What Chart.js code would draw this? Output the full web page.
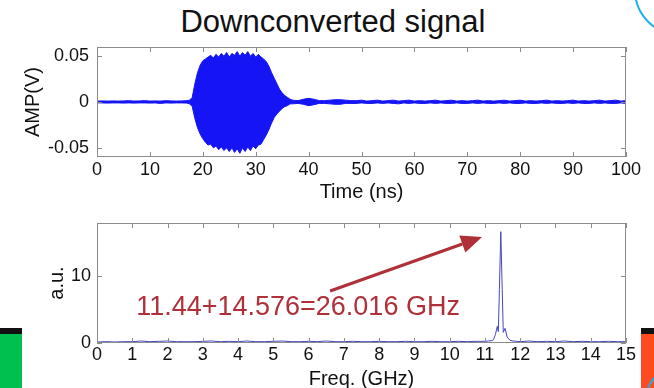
<!DOCTYPE html>
<html>
<head>
<meta charset="utf-8">
<script src="https://cdn.jsdelivr.net/npm/chart.js@4"></script>
<style>
  body { margin: 0; width: 654px; height: 388px; overflow: hidden; background: #fff; position: relative;
         font-family: "Liberation Sans", Arial, sans-serif; }
  canvas { position: absolute; left: 0; }
  #c1 { top: 0; }
  #c2 { top: 200px; }
  #title { position: absolute; left: 0; width: 666px; top: 5px; line-height: 34px; text-align: center;
           font-size: 31px; color: #111; }
  .blk { position: absolute; top: 328px; height: 54px; border-top: 6px solid #111; }
  #green { left: 0; width: 22px; background: #00c050; }
  #orange { left: 641px; width: 13px; background: #ff4b1f; overflow: hidden; }
  #arc { position: absolute; left: 634px; top: -56px; width: 92px; height: 92px; border-radius: 50%;
         border: 2px solid #1ab0ee; box-sizing: border-box; }
  #arc2 { position: absolute; left: 4px; top: 31px; width: 70px; height: 70px; border-radius: 50%;
          border: 2px solid #1ab0ee; box-sizing: border-box; }
</style>
</head>
<body>
<div id="title">Downconverted signal</div>
<div id="arc"></div>
<div id="green" class="blk"></div>
<div id="orange" class="blk"><div id="arc2"></div></div>
<canvas id="c1" width="654" height="210"></canvas>
<canvas id="c2" width="654" height="200"></canvas>
<script>
// time domain (ns) -> envelope of the downconverted signal (V)
const timeNs = [0,1,2,3,4,5,6,7,8,9,10,11,12,13,14,15,16,17,
  17.5,18,18.5,19,19.5,20,20.5,21,21.5,22,22.5,23,23.5,24,24.5,25,25.5,26,26.5,27,27.5,28,28.5,29,29.5,30,30.5,31,31.5,32,32.5,33,33.5,34,34.5,35,35.5,36,36.5,
  37,38,39,40,41,42,43,44,45,46,47,48,49,50,51,52,53,54,55,56,57,58,59,60,61,62,63,64,65,66,67,68,
  69,70,71,72,73,74,75,76,77,78,79,80,81,82,83,84,85,86,87,88,89,90,91,92,93,94,95,96,97,98,99,100];
const ampHigh = [0.001,0.0012,0.001,0.0012,0.001,0.0012,0.0015,0.001,0.0012,0.0015,0.001,0.0012,0.001,0.0015,0.0012,0.001,0.0012,0.0015,
  0.002,0.005,0.020,0.032,0.040,0.045,0.047,0.049,0.051,0.048,0.052,0.049,0.053,0.050,0.054,0.049,0.053,0.051,0.055,0.050,0.054,0.051,0.055,0.050,0.053,0.049,0.052,0.049,0.047,0.044,0.039,0.032,0.026,0.020,0.014,0.010,0.007,0.005,0.003,
  0.002,0.0015,0.003,0.004,0.003,0.0015,0.0015,0.002,0.0025,0.0025,0.002,0.0015,0.0015,0.002,0.001,0.0015,0.002,0.001,0.0015,0.002,0.001,0.0015,0.002,0.001,0.0015,0.001,0.0015,0.002,0.001,0.0015,0.002,0.001,
  0.0015,0.001,0.0015,0.002,0.001,0.0015,0.001,0.0015,0.002,0.001,0.0015,0.002,0.001,0.0015,0.001,0.0015,0.002,0.001,0.0015,0.001,0.0015,0.002,0.001,0.0015,0.001,0.0015,0.002,0.001,0.0015,0.002,0.001,0.0015];
const ampLow = [-0.001,-0.001,-0.0012,-0.001,-0.001,-0.0012,-0.001,-0.0012,-0.001,-0.001,-0.0012,-0.001,-0.0015,-0.001,-0.0012,-0.001,-0.001,-0.0012,
  -0.002,-0.005,-0.018,-0.028,-0.035,-0.040,-0.044,-0.047,-0.046,-0.050,-0.048,-0.052,-0.049,-0.053,-0.050,-0.054,-0.050,-0.055,-0.051,-0.056,-0.050,-0.054,-0.049,-0.053,-0.048,-0.051,-0.047,-0.046,-0.041,-0.036,-0.030,-0.023,-0.017,-0.013,-0.010,-0.007,-0.005,-0.004,-0.002,
  -0.002,-0.0015,-0.0025,-0.004,-0.003,-0.0015,-0.0015,-0.002,-0.0025,-0.0025,-0.0015,-0.0015,-0.0015,-0.001,-0.0015,-0.0015,-0.001,-0.0015,-0.001,-0.0015,-0.002,-0.001,-0.0015,-0.001,-0.0015,-0.0015,-0.001,-0.0015,-0.001,-0.0015,-0.0015,-0.001,
  -0.0015,-0.0015,-0.001,-0.0015,-0.001,-0.0015,-0.0015,-0.001,-0.0015,-0.001,-0.0015,-0.0015,-0.001,-0.0015,-0.0015,-0.001,-0.0015,-0.001,-0.0015,-0.0015,-0.001,-0.0015,-0.001,-0.0015,-0.0015,-0.001,-0.0015,-0.001,-0.0015,-0.0015,-0.001,-0.0015];
const timeTicks = [0,10,20,30,40,50,60,70,80,90,100];
const ampTicks = [-0.05, 0, 0.05];

// spectrum (GHz) -> a.u.
const freqGHz = [0,0.25,0.5,0.75,1,1.25,1.5,1.75,2,2.25,2.5,2.75,3,3.25,3.5,3.75,4,4.25,4.5,4.75,5,5.25,5.5,5.75,
  6,6.25,6.5,6.75,7,7.25,7.5,7.75,8,8.25,8.5,8.75,9,9.25,9.5,9.75,10,10.25,10.5,10.75,11,
  11.1,11.2,11.24,11.3,11.35,11.38,11.41,11.45,11.49,11.52,11.57,11.63,11.71,11.8,11.9,
  12,12.25,12.5,12.75,13,13.25,13.5,13.75,14,14.25,14.5,14.75,15];
const specAU = [0.15,0.2,0.15,0.2,0.2,0.3,0.2,0.25,0.3,0.2,0.2,0.2,0.25,0.3,0.2,0.25,0.2,0.3,0.2,0.2,0.25,0.3,0.2,0.2,
  0.25,0.2,0.3,0.2,0.2,0.25,0.2,0.2,0.25,0.2,0.2,0.25,0.2,0.2,0.25,0.2,0.2,0.25,0.2,0.25,0.25,
  0.3,0.35,0.5,1.3,2.5,1.7,8,16.7,8,1.6,2.2,0.9,0.4,0.3,0.25,
  0.2,0.3,0.2,0.25,0.2,0.3,0.2,0.25,0.2,0.2,0.25,0.2,0.2];
const freqTicks = [0,1,2,3,4,5,6,7,8,9,10,11,12,13,14,15];
const auTicks = [0, 10];

const fontFam = '"Liberation Sans", Arial, sans-serif';
const txt = '#111';

// MATLAB style box with inward ticks
const matlabBox = {
  id: 'matlabBox',
  afterDraw(chart) {
    const {ctx, chartArea: a, scales: {x, y}} = chart;
    ctx.save();
    ctx.strokeStyle = '#8c8c8c';
    ctx.lineWidth = 1;
    ctx.beginPath();
    x.ticks.forEach(t => {
      const px = Math.round(x.getPixelForValue(t.value)) + 0.5;
      ctx.moveTo(px, a.bottom); ctx.lineTo(px, a.bottom - 5);
      ctx.moveTo(px, a.top); ctx.lineTo(px, a.top + 5);
    });
    y.ticks.forEach(t => {
      const py = Math.round(y.getPixelForValue(t.value)) + 0.5;
      ctx.moveTo(a.left, py); ctx.lineTo(a.left + 5, py);
      ctx.moveTo(a.right, py); ctx.lineTo(a.right - 5, py);
    });
    ctx.stroke();
    ctx.strokeRect(Math.round(a.left) + 0.5, Math.round(a.top) + 0.5, Math.round(a.width) - 1, Math.round(a.height) - 1);
    ctx.restore();
  }
};

// arrow + text in the spectrum
const note = {
  id: 'note',
  afterDatasetsDraw(chart) {
    const {ctx, scales: {x, y}} = chart;
    const x0 = x.getPixelForValue(6.61), y0 = y.getPixelForValue(7.8);
    const x1 = x.getPixelForValue(10.92), y1 = y.getPixelForValue(15.9);
    const ang = Math.atan2(y1 - y0, x1 - x0);
    const hl = 21, hw = 9;
    const bx = x1 - hl * Math.cos(ang), by = y1 - hl * Math.sin(ang);
    ctx.save();
    ctx.strokeStyle = '#b0303a';
    ctx.fillStyle = '#b0303a';
    ctx.lineWidth = 3;
    ctx.beginPath();
    ctx.moveTo(x0, y0); ctx.lineTo(bx, by);
    ctx.stroke();
    ctx.beginPath();
    ctx.moveTo(x1, y1);
    ctx.lineTo(bx + hw * Math.sin(ang), by - hw * Math.cos(ang));
    ctx.lineTo(bx - hw * Math.sin(ang), by + hw * Math.cos(ang));
    ctx.closePath();
    ctx.fill();
    ctx.font = '27px ' + fontFam;
    ctx.textAlign = 'center';
    ctx.textBaseline = 'middle';
    ctx.fillText('11.44+14.576=26.016 GHz', x.getPixelForValue(5.70), y.getPixelForValue(5.3));
    ctx.restore();
  }
};

function axisX(min, max, ticks, title, h, pad, tpad) {
  return {
    type: 'linear', min: min, max: max,
    afterBuildTicks: s => { s.ticks = ticks.map(v => ({value: v})); },
    afterFit: s => { s.height = h; },
    grid: {display: false, drawTicks: false}, border: {display: false},
    ticks: {color: txt, font: {family: fontFam, size: 18}, padding: pad, maxRotation: 0, autoSkip: false},
    title: {display: true, text: title, color: txt, font: {family: fontFam, size: 20}, padding: {top: 0, bottom: tpad}}
  };
}
function axisY(min, max, ticks, title, pad, tpad) {
  return {
    type: 'linear', min: min, max: max,
    afterBuildTicks: s => { s.ticks = ticks.map(v => ({value: v})); },
    afterFit: s => { s.width = 97; },
    grid: {display: false, drawTicks: false}, border: {display: false},
    ticks: {color: txt, font: {family: fontFam, size: 18}, padding: pad, callback: v => String(v)},
    title: {display: true, text: title, color: txt, font: {family: fontFam, size: 20}, padding: {top: tpad, bottom: 0}}
  };
}

new Chart(document.getElementById('c1'), {
  type: 'line',
  data: {
    datasets: [{
      data: timeNs.map((t, i) => ({x: t, y: ampHigh[i]})),
      borderColor: '#1414f5', borderWidth: 1, pointRadius: 0, fill: false
    }, {
      data: timeNs.map((t, i) => ({x: t, y: ampLow[i]})),
      borderColor: '#1414f5', borderWidth: 1, pointRadius: 0,
      fill: '-1', backgroundColor: '#1414f5'
    }]
  },
  options: {
    responsive: false, animation: false,
    layout: {padding: {left: 0, right: 28, top: 47, bottom: 0}},
    plugins: {legend: {display: false}, tooltip: {enabled: false}},
    scales: {
      x: axisX(0, 100, timeTicks, 'Time (ns)', 53, 2, 6),
      y: axisY(-0.06, 0.06, ampTicks, 'AMP(V)', 8, 21)
    }
  },
  plugins: [matlabBox]
});

new Chart(document.getElementById('c2'), {
  type: 'line',
  data: {
    datasets: [{
      data: freqGHz.map((f, i) => ({x: f, y: specAU[i]})),
      borderColor: '#4646c0', borderWidth: 1, pointRadius: 0, fill: false
    }]
  },
  options: {
    responsive: false, animation: false,
    layout: {padding: {left: 0, right: 28, top: 23, bottom: 0}},
    plugins: {legend: {display: false}, tooltip: {enabled: false}},
    scales: {
      x: axisX(0, 15, freqTicks, 'Freq. (GHz)', 57, 1, 9),
      y: axisY(0, 18, auTicks, 'a.u.', 6, 45)
    }
  },
  plugins: [matlabBox, note]
});
</script>
</body>
</html>
